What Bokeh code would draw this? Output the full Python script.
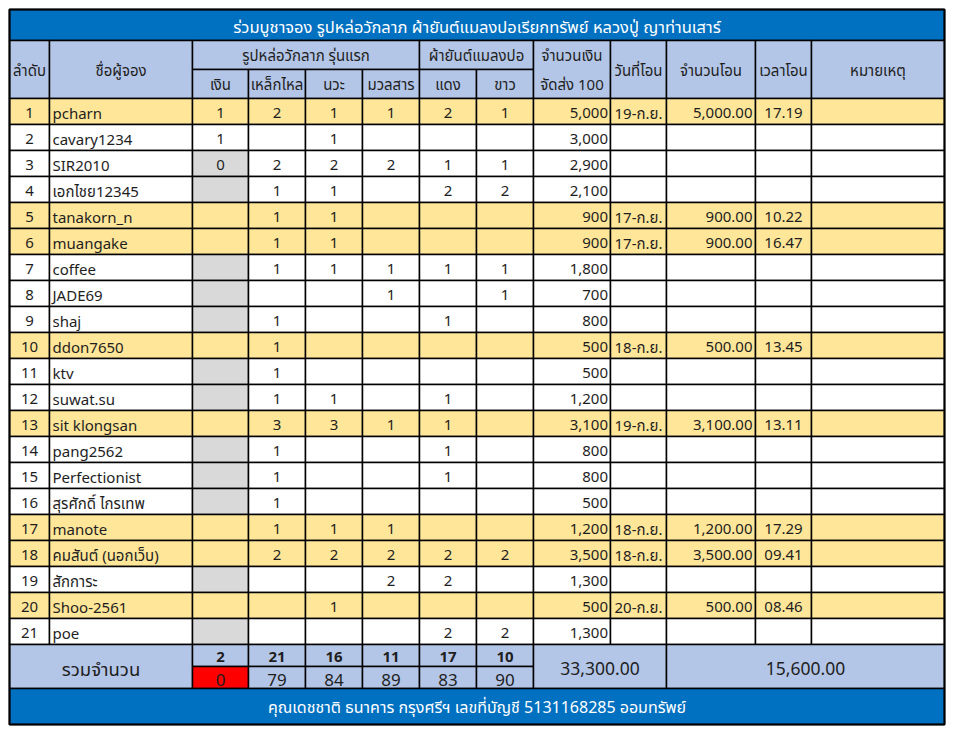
from bokeh.plotting import figure
from bokeh.models import Range1d, ColumnDataSource
from bokeh.core.properties import value
from bokeh.embed import file_html
from bokeh.resources import INLINE

# ---------------- data ----------------
title = "ร่วมบูชาจอง รูปหล่อวักลาภ ผ้ายันต์แมลงปอเรียกทรัพย์ หลวงปู่ ญาท่านเสาร์"
footer = "คุณเดชชาติ ธนาคาร กรุงศรีฯ เลขที่บัญชี 5131168285 ออมทรัพย์"
group_statue = "รูปหล่อวักลาภ รุ่นแรก"
group_cloth = "ผ้ายันต์แมลงปอ"
col_seq = "ลำดับ"
col_name = "ชื่อผู้จอง"
statue_items = ["เงิน", "เหล็กไหล", "นวะ", "มวลสาร"]
cloth_items = ["แดง", "ขาว"]
col_amount = ["จำนวนเงิน", "จัดส่ง 100"]
col_date = "วันที่โอน"
col_paid = "จำนวนโอน"
col_time = "เวลาโอน"
col_note = "หมายเหตุ"
total_label = "รวมจำนวน"

seq = list(range(1, 22))
names = ["pcharn", "cavary1234", "SIR2010", "เอกไชย12345", "tanakorn_n", "muangake",
         "coffee", "JADE69", "shaj", "ddon7650", "ktv", "suwat.su", "sit klongsan",
         "pang2562", "Perfectionist", "สุรศักดิ์ ไกรเทพ", "manote", "คมสันต์ (นอกเว็บ)",
         "สักการะ", "Shoo-2561", "poe"]
silver  = [1, 1, 0, None, None, None, None, None, None, None, None, None, None, None, None, None, None, None, None, None, None]
iron    = [2, None, 2, 1, 1, 1, 1, None, 1, 1, 1, 1, 3, 1, 1, 1, 1, 2, None, None, None]
nawa    = [1, 1, 2, 1, 1, 1, 1, None, None, None, None, 1, 3, None, None, None, 1, 2, None, 1, None]
mass    = [1, None, 2, None, None, None, 1, 1, None, None, None, None, 1, None, None, None, 1, 2, 2, None, None]
red     = [2, None, 1, 2, None, None, 1, None, 1, None, None, 1, 1, 1, 1, None, None, 2, 2, None, 2]
white   = [1, None, 1, 2, None, None, 1, 1, None, None, None, None, None, None, None, None, None, 2, None, None, 2]
amount  = [5000, 3000, 2900, 2100, 900, 900, 1800, 700, 800, 500, 500, 1200, 3100, 800, 800, 500, 1200, 3500, 1300, 500, 1300]
tdate   = ["19-ก.ย.", None, None, None, "17-ก.ย.", "17-ก.ย.", None, None, None, "18-ก.ย.", None, None,
           "19-ก.ย.", None, None, None, "18-ก.ย.", "18-ก.ย.", None, "20-ก.ย.", None]
tamount = [5000, None, None, None, 900, 900, None, None, None, 500, None, None,
           3100, None, None, None, 1200, 3500, None, 500, None]
ttime   = ["17.19", None, None, None, "10.22", "16.47", None, None, None, "13.45", None, None,
           "13.11", None, None, None, "17.29", "09.41", None, "08.46", None]
item_totals = [2, 21, 16, 11, 17, 10]
item_remaining = [0, 79, 84, 89, 83, 90]
grand_amount = 33300.00
grand_paid = 15600.00

# ---------------- layout / style ----------------
BLUE = "#0070C0"
HEAD = "#B4C6E7"
YEL = "#FFE699"
GRAY = "#D9D9D9"
REDC = "#FF0000"
INK = "#1e1e1e"
FONT = "'Noto Sans', 'Noto Sans Thai', 'Tahoma', sans-serif"
DY = -8  # text baseline correction

X = [9, 49, 192, 248, 305, 362, 419, 476, 533, 610, 666, 755, 811, 944]
T0, T1 = 9, 40
H0, H1, H2 = 40, 69, 98
RH = 26
S0 = H2 + RH * len(seq)
S1 = S0 + 22
S2 = S1 + 22
F1 = 724

cells = dict(left=[], right=[], top=[], bottom=[], fill=[])
def cell(c0, c1, y0, y1, fill):
    cells["left"].append(X[c0]); cells["right"].append(X[c1])
    cells["top"].append(y0); cells["bottom"].append(y1); cells["fill"].append(fill)

texts = dict(x=[], y=[], text=[], align=[], size=[], color=[], style=[])
def txt(x, y, t, align="center", size="15px", color=INK, style="normal"):
    texts["x"].append(x); texts["y"].append(y + DY); texts["text"].append(t)
    texts["align"].append(align); texts["size"].append(size)
    texts["color"].append(color); texts["style"].append(style)

def cx(c0, c1=None):
    c1 = c0 + 1 if c1 is None else c1
    return (X[c0] + X[c1]) / 2

# title
cell(0, 13, T0, T1, BLUE)
txt(cx(0, 13), 34, title, size="16.5px", color="white")

# header
cell(0, 1, H0, H2, HEAD); txt(cx(0), 77, col_seq)
cell(1, 2, H0, H2, HEAD); txt(cx(1), 77, col_name)
cell(2, 6, H0, H1, HEAD); txt(cx(2, 6), 62, group_statue)
for k, lab in enumerate(statue_items):
    cell(2 + k, 3 + k, H1, H2, HEAD); txt(cx(2 + k), 91, lab)
cell(6, 8, H0, H1, HEAD); txt(cx(6, 8), 62, group_cloth)
for k, lab in enumerate(cloth_items):
    cell(6 + k, 7 + k, H1, H2, HEAD); txt(cx(6 + k), 91, lab)
cell(8, 9, H0, H2, HEAD); txt(cx(8), 62, col_amount[0]); txt(cx(8), 91, col_amount[1])
cell(9, 10, H0, H2, HEAD); txt(cx(9), 77, col_date)
cell(10, 11, H0, H2, HEAD); txt(cx(10), 77, col_paid)
cell(11, 12, H0, H2, HEAD); txt(cx(11), 77, col_time)
cell(12, 13, H0, H2, HEAD); txt(cx(12), 77, col_note)

# data rows
counts = [silver, iron, nawa, mass, red, white]
for i in range(len(seq)):
    y0 = H2 + RH * i
    y1 = y0 + RH
    base = y1 - 4
    paid = tdate[i] is not None
    rowfill = YEL if paid else "white"
    for c in range(13):
        f = rowfill
        if c == 2 and not paid and not silver[i]:
            f = GRAY
        cell(c, c + 1, y0, y1, f)
    txt(cx(0), base, str(seq[i]))
    txt(X[1] + 3, base, names[i], align="left")
    for k, arr in enumerate(counts):
        if arr[i] is not None:
            txt(cx(2 + k), base, str(arr[i]))
    txt(X[9] - 2.5, base, f"{amount[i]:,}", align="right")
    if paid:
        txt(X[9] + 4, base, tdate[i], align="left")
        txt(X[11] - 3, base, f"{tamount[i]:,.2f}", align="right")
        txt(cx(11), base, ttime[i])

# totals
cell(0, 2, S0, S2, HEAD); txt(cx(0, 2), 676, total_label, size="18.5px")
for k in range(6):
    cell(2 + k, 3 + k, S0, S1, HEAD)
    txt(cx(2 + k), 664, str(item_totals[k]), style="bold")
    cell(2 + k, 3 + k, S1, S2, REDC if item_remaining[k] == 0 else HEAD)
    txt(cx(2 + k), 687, str(item_remaining[k]), size="17px")
cell(8, 10, S0, S2, HEAD); txt(cx(8, 10), 676, f"{grand_amount:,.2f}", size="17.5px")
cell(10, 13, S0, S2, HEAD); txt(cx(10, 13), 676, f"{grand_paid:,.2f}", size="17.5px")

# footer
cell(0, 13, S2, F1, BLUE)
txt(cx(0, 13), 714, footer, size="16px", color="white")

# ---------------- figure ----------------
W, H = 950, 730
p = figure(width=W, height=H, output_backend="svg", toolbar_location=None,
           x_range=Range1d(0, W), y_range=Range1d(H, 0),
           min_border=0, outline_line_color=None)
p.axis.visible = False
p.grid.visible = False
p.background_fill_color = "white"
p.border_fill_color = "white"

p.quad(left="left", right="right", top="top", bottom="bottom", fill_color="fill",
       line_color="black", line_width=1.5, source=ColumnDataSource(cells))
p.quad(left=[X[0]], right=[X[-1]], top=[T0], bottom=[F1], fill_color=None,
       line_color="black", line_width=2)

p.text(x="x", y="y", text="text", text_align="align", text_baseline="alphabetic",
       text_font_size="size", text_color="color", text_font_style="style",
       text_font=value(FONT), source=ColumnDataSource(texts))

open("out.html", "w").write(file_html(p, INLINE))
